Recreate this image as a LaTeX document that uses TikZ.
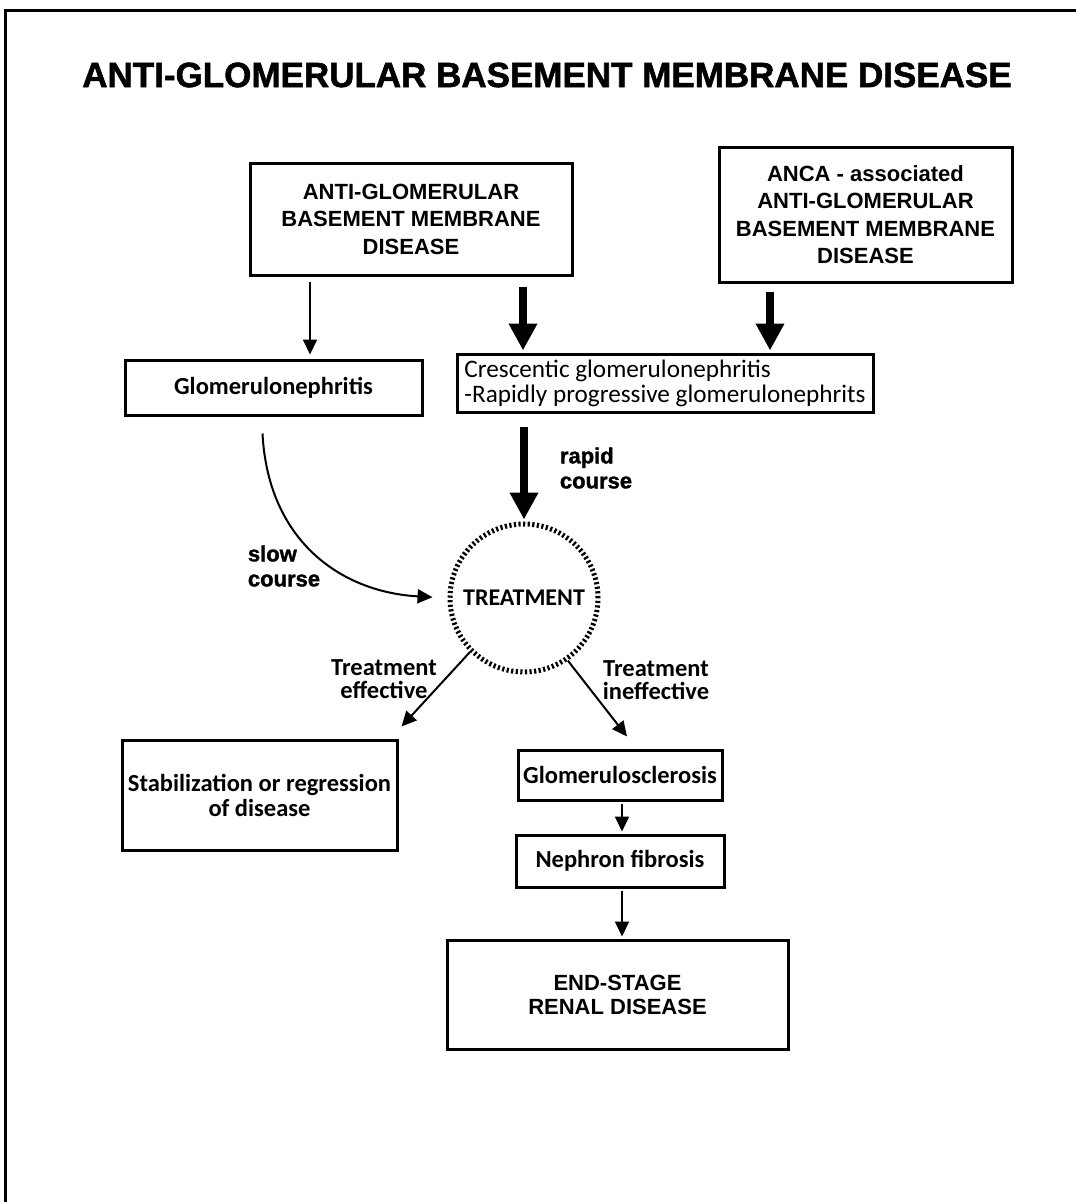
\documentclass[tikz,border=0pt]{standalone}
\usepackage{fontspec}
\setmainfont{Liberation Sans}
\newfontfamily\heavy{Liberation Sans}[BoldFeatures={FakeBold=1.5}]
\newfontfamily\cb{Carlito}
\usetikzlibrary{arrows.meta,calc}
\begin{document}
\begin{tikzpicture}[x=1pt,y=-1pt,
  box/.style={draw, line width=3pt, inner sep=0pt, align=center},
  hd/.style={font=\bfseries\fontsize{22}{27.5}\selectfont},
  lb/.style={font=\cb\bfseries\fontsize{24.5}{25}\selectfont},
  big/.style={font=\heavy\bfseries\fontsize{22}{25}\selectfont},
  thinarr/.style={line width=2pt, -{Triangle[length=15pt,width=14pt]}},
  thickarr/.style={line width=8pt, -{Triangle[length=27pt,width=27pt]}}]
\useasboundingbox (0,0) rectangle (1076,1202);
\fill[white] (0,0) rectangle (1076,1202);
\draw[line width=3pt] (5,1202) -- (5,10) -- (1076,10);

\node[font=\heavy\bfseries\fontsize{35}{40}\selectfont] (title) at (547,75) {ANTI-GLOMERULAR BASEMENT MEMBRANE DISEASE};

\node[box, hd, minimum width=322, minimum height=112] (b1) at (411,219) {ANTI-GLOMERULAR\\BASEMENT MEMBRANE\\DISEASE};
\node[box, hd, minimum width=293, minimum height=135] (b2) at (865.5,214.5) {ANCA - associated\\ANTI-GLOMERULAR\\BASEMENT MEMBRANE\\DISEASE};
\node[box, lb, minimum width=297, minimum height=55] (glom) at (273.5,387.5) {Glomerulonephritis};
\node[box, font=\cb\fontsize{25.2}{25}\selectfont, align=left, minimum width=416, minimum height=58] (cresc) at (665,383) {Crescentic glomerulonephritis\\-Rapidly progressive glomerulonephrits};
\node[circle, draw, line width=5pt, dash pattern=on 2.2pt off 2.4pt, minimum size=148, inner sep=0pt, font=\cb\bfseries\fontsize{24}{25}\selectfont] (treat) at (524,598) {TREATMENT};
\node[box, lb, minimum width=275, minimum height=110] (stab) at (259.5,795) {Stabilization or regression\\of disease};
\node[box, lb, minimum width=204, minimum height=50] (gs) at (620,775) {Glomerulosclerosis};
\node[box, lb, minimum width=208, minimum height=52] (nf) at (620,861) {Nephron fibrosis};
\node[box, hd, font=\bfseries\fontsize{22}{24}\selectfont, minimum width=341, minimum height=109] (esrd) at (617.5,994.5) {END-STAGE\\RENAL DISEASE};

\node[big, align=left] (slow) at (284,566) {slow\\course};
\node[big, align=left] (rapid) at (596,468) {rapid\\course};
\node[lb, align=center, font=\cb\bfseries\fontsize{24.5}{23}\selectfont] (teff) at (384,679) {Treatment\\effective};
\node[lb, align=center, font=\cb\bfseries\fontsize{24.5}{23}\selectfont] (tineff) at (656,680) {Treatment\\ineffective};

\draw[thinarr, shorten <=5pt, shorten >=4pt] ([xshift=-101pt]b1.south) -- ([xshift=-101pt]b1.south |- glom.north);
\draw[thickarr, shorten <=10pt, shorten >=2pt] ([xshift=112pt]b1.south) -- ([xshift=112pt]b1.south |- cresc.north);
\draw[thickarr, shorten <=8pt, shorten >=2pt] ([xshift=-95.5pt]b2.south) -- ([xshift=-95.5pt]b2.south |- cresc.north);
\draw[thickarr, shorten <=13pt, shorten >=2pt] (treat.north |- cresc.south) -- (treat.north);
\draw[thinarr, shorten >=15pt] ([xshift=-11pt,yshift=-17pt]glom.south) .. controls (268,540) and (340,592) .. (treat.west);
\draw[thinarr] (treat.225) -- ([xshift=3pt,yshift=12pt]stab.north east);
\draw[thinarr] (treat.305) -- ([xshift=7pt,yshift=12pt]gs.north);
\draw[thinarr, shorten <=2pt, shorten >=2pt] ([xshift=2pt]gs.south) -- ([xshift=2pt]nf.north);
\draw[thinarr, shorten <=2pt, shorten >=2pt] ([xshift=2pt]nf.south) -- ([xshift=2pt]nf.south |- esrd.north);
\end{tikzpicture}
\end{document}
